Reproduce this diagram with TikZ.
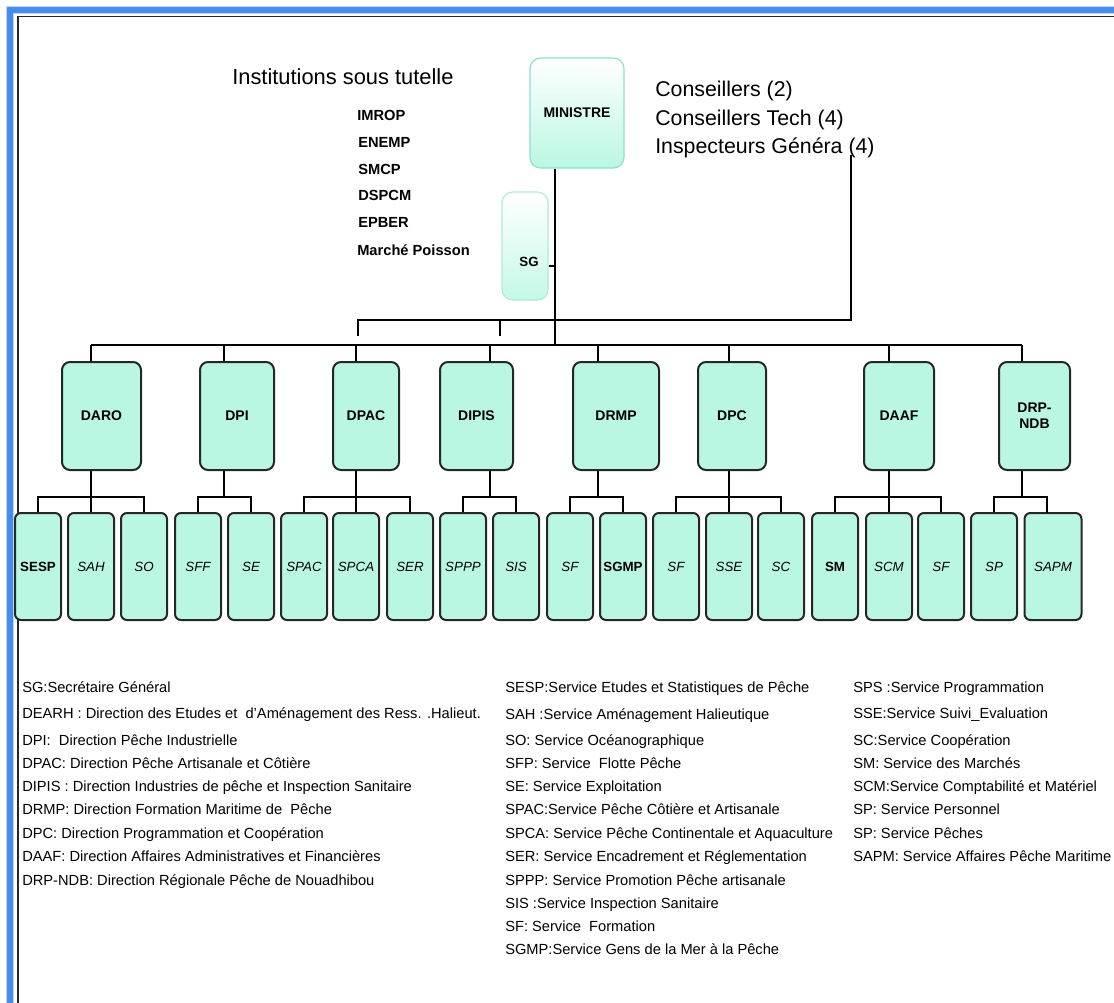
\documentclass[tikz,border=0pt]{standalone}
\usepackage{fontspec}
\setmainfont{Liberation Sans}
\definecolor{mint}{RGB}{186,247,226}
\definecolor{mintdk}{RGB}{140,225,208}
\definecolor{frameblue}{RGB}{70,140,235}
\begin{document}
\begin{tikzpicture}[x=0.75pt,y=-0.75pt,
  dirbox/.style={draw=black!85, line width=1.5pt, fill=mint, rounded corners=6pt,
    minimum height=81pt, inner sep=1pt, font=\fontsize{10.5}{12}\selectfont\bfseries, align=center},
  svc/.style={draw=black!85, line width=1.5pt, fill=mint, rounded corners=4.5pt,
    minimum width=34.5pt, minimum height=80.25pt, inner sep=0pt, font=\fontsize{10}{12}\selectfont\itshape},
  svcup/.style={svc, font=\fontsize{10}{12}\selectfont\bfseries},
  topbox/.style={draw=mintdk, line width=0.9pt, top color=white, bottom color=mint, rounded corners=8pt},
  conn/.style={line width=1.1pt, black},
  legend/.style={anchor=west, inner sep=0pt, text height=8pt, text depth=2.4pt, font=\fontsize{11}{13}\selectfont},
  big/.style={anchor=west, inner sep=0pt, text height=11.5pt, text depth=3.4pt, font=\fontsize{16.4}{19}\selectfont},
  inst/.style={anchor=west, inner sep=0pt, text height=8pt, text depth=2.4pt, font=\fontsize{11}{13}\selectfont\bfseries}]
\useasboundingbox (0,0) rectangle (1114,1003);
% frame
\draw[frameblue!35, line width=6.5pt] (10,1003) -- (10,10) -- (1114,10);
\draw[frameblue, line width=4pt] (10,1003) -- (10,10) -- (1114,10);
\draw[black!85, line width=1.3pt] (18,1003) -- (18,16.5) -- (1114,16.5);

% top texts
\node[big] (insttitle) at (232,79) {Institutions sous tutelle};
\node[inst] (i1) at (357,117) {IMROP};
\node[inst] (i2) at (358,144) {ENEMP};
\node[inst] (i3) at (358,171) {SMCP};
\node[inst] (i4) at (358,197) {DSPCM};
\node[inst] (i5) at (358,224) {EPBER};
\node[inst] (i6) at (357,252) {Marché Poisson};

\node[big, font=\fontsize{16}{19}\selectfont] (c1) at (655,91) {Conseillers (2)};
\node[big, font=\fontsize{16}{19}\selectfont] (c2) at (655,120) {Conseillers Tech (4)};
\node[big, font=\fontsize{16}{19}\selectfont] (c3) at (655,148) {Inspecteurs Généra (4)};

% ministre and SG
\node[topbox, minimum width=70.5pt, minimum height=82.5pt, font=\fontsize{10.5}{12}\selectfont\bfseries] (MIN) at (577,113) {MINISTRE};
\node[topbox, draw=mintdk!70, bottom color=mint!85, minimum width=34.5pt, minimum height=81pt] (SG) at (525,246) {};
\node[font=\fontsize{10}{12}\selectfont\bfseries, inner sep=0pt] (sgl) at (529,262) {SG};

% trunk
\coordinate (trunk) at (555,345);
\coordinate (bar) at (0,497);
\draw[conn] (MIN.south -| trunk) -- (trunk);
\coordinate (sgt) at ([yshift=-15pt]SG.east);
\draw[conn] (sgt) -- (sgt -| trunk);

% conseillers line
\coordinate (igc) at (851,155);
\coordinate (cbl) at (358,320);
\coordinate (k1) at (358,336);
\coordinate (k2) at (500,336);
\draw[conn] (igc) |- (cbl) -- (k1);
\draw[conn] (k2 |- cbl) -- (k2);

% top bar
\coordinate (barL) at (91,345);
\coordinate (barR) at (1022,345);
\draw[conn] (barL) -- (barR);

% directorates
\node[dirbox, minimum width=59.25pt] (DARO) at (101.5,416) {DARO};
\node[dirbox, minimum width=55.5pt] (DPI) at (237,416) {DPI};
\node[dirbox, minimum width=49.5pt] (DPAC) at (366,416) {DPAC};
\node[dirbox, minimum width=54.75pt] (DIPIS) at (476.5,416) {DIPIS};
\node[dirbox, minimum width=64.5pt] (DRMP) at (616,416) {DRMP};
\node[dirbox, minimum width=51pt] (DPC) at (732,416) {DPC};
\node[dirbox, minimum width=52.5pt] (DAAF) at (899,416) {DAAF};
\node[dirbox, minimum width=53.25pt] (DRP) at (1034.5,416) {DRP-\\NDB};

\foreach \d/\cx in {DARO/91, DPI/224, DPAC/356, DIPIS/490, DRMP/598, DPC/729, DAAF/889, DRP/1022}{
  \coordinate (t\d) at (\cx,345);
  \draw[conn] (t\d) -- (t\d |- \d.north);
  \draw[conn] (t\d |- \d.south) -- (t\d |- bar);
}

% services
\node[svcup] (s1) at (38,566.5) {SESP};
\node[svc] (s2) at (91,566.5) {SAH};
\node[svc] (s3) at (144,566.5) {SO};
\node[svc] (s4) at (198,566.5) {SFF};
\node[svc] (s5) at (251,566.5) {SE};
\node[svc] (s6) at (304,566.5) {SPAC};
\node[svc] (s7) at (356,566.5) {SPCA};
\node[svc] (s8) at (410,566.5) {SER};
\node[svc] (s9) at (463,566.5) {SPPP};
\node[svc] (s10) at (516,566.5) {SIS};
\node[svc] (s11) at (570,566.5) {SF};
\node[svcup] (s12) at (623,566.5) {SGMP};
\node[svc] (s13) at (676,566.5) {SF};
\node[svc] (s14) at (729,566.5) {SSE};
\node[svc] (s15) at (781,566.5) {SC};
\node[svcup] (s16) at (835,566.5) {SM};
\node[svc] (s17) at (889,566.5) {SCM};
\node[svc] (s18) at (941,566.5) {SF};
\node[svc] (s19) at (994,566.5) {SP};
\node[svc, minimum width=42.75pt] (s20) at (1053,566.5) {SAPM};

% service connectors
\coordinate (sapmtop) at (1047,513);
\draw[conn] (s1.north) |- (s3.north |- bar) -- (s3.north);
\draw[conn] (s2.north) -- (s2.north |- bar);
\draw[conn] (s4.north) |- (s5.north |- bar) -- (s5.north);
\draw[conn] (s6.north) |- (s8.north |- bar) -- (s8.north);
\draw[conn] (s7.north) -- (s7.north |- bar);
\draw[conn] (s9.north) |- (s10.north |- bar) -- (s10.north);
\draw[conn] (s11.north) |- (s12.north |- bar) -- (s12.north);
\draw[conn] (s13.north) |- (s15.north |- bar) -- (s15.north);
\draw[conn] (s14.north) -- (s14.north |- bar);
\draw[conn] (s16.north) |- (s18.north |- bar) -- (s18.north);
\draw[conn] (s17.north) -- (s17.north |- bar);
\draw[conn] (s19.north) |- (sapmtop |- bar) -- (sapmtop);

% legend left
\node[legend] (la1) at (22,689) {SG:Secrétaire Général};
\node[legend] (la2) at (22,715) {DEARH : Direction des Etudes et \ d'Aménagement des Ress. .Halieut.};
\node[legend] (la3) at (22,742) {DPI: \ Direction Pêche Industrielle};
\node[legend] (la4) at (22,765) {DPAC: Direction Pêche Artisanale et Côtière};
\node[legend] (la5) at (22,788) {DIPIS : Direction Industries de pêche et Inspection Sanitaire};
\node[legend] (la6) at (22,811) {DRMP: Direction Formation Maritime de \ Pêche};
\node[legend] (la7) at (22,835) {DPC: Direction Programmation et Coopération};
\node[legend] (la8) at (22,858) {DAAF: Direction Affaires Administratives et Financières};
\node[legend] (la9) at (22,882) {DRP-NDB: Direction Régionale Pêche de Nouadhibou};

% legend middle
\node[legend] (lb1) at (505,689) {SESP:Service Etudes et Statistiques de Pêche};
\node[legend] (lb2) at (505,716) {SAH :Service Aménagement Halieutique};
\node[legend] (lb3) at (505,742) {SO: Service Océanographique};
\node[legend] (lb4) at (505,765) {SFP: Service \ Flotte Pêche};
\node[legend] (lb5) at (505,788) {SE: Service Exploitation};
\node[legend] (lb6) at (505,811) {SPAC:Service Pêche Côtière et Artisanale};
\node[legend] (lb7) at (505,835) {SPCA: Service Pêche Continentale et Aquaculture};
\node[legend] (lb8) at (505,858) {SER: Service Encadrement et Réglementation};
\node[legend] (lb9) at (505,882) {SPPP: Service Promotion Pêche artisanale};
\node[legend] (lb10) at (505,905) {SIS :Service Inspection Sanitaire};
\node[legend] (lb11) at (505,928) {SF: Service \ Formation};
\node[legend] (lb12) at (505,951) {SGMP:Service Gens de la Mer à la Pêche};

% legend right
\node[legend] (lc1) at (853,689) {SPS :Service Programmation};
\node[legend] (lc2) at (853,715) {SSE:Service Suivi\_Evaluation};
\node[legend] (lc3) at (853,742) {SC:Service Coopération};
\node[legend] (lc4) at (853,765) {SM: Service des Marchés};
\node[legend] (lc5) at (853,788) {SCM:Service Comptabilité et Matériel};
\node[legend] (lc6) at (853,811) {SP: Service Personnel};
\node[legend] (lc7) at (853,835) {SP: Service Pêches};
\node[legend] (lc8) at (853,858) {SAPM: Service Affaires Pêche Maritime};
\end{tikzpicture}
\end{document}
